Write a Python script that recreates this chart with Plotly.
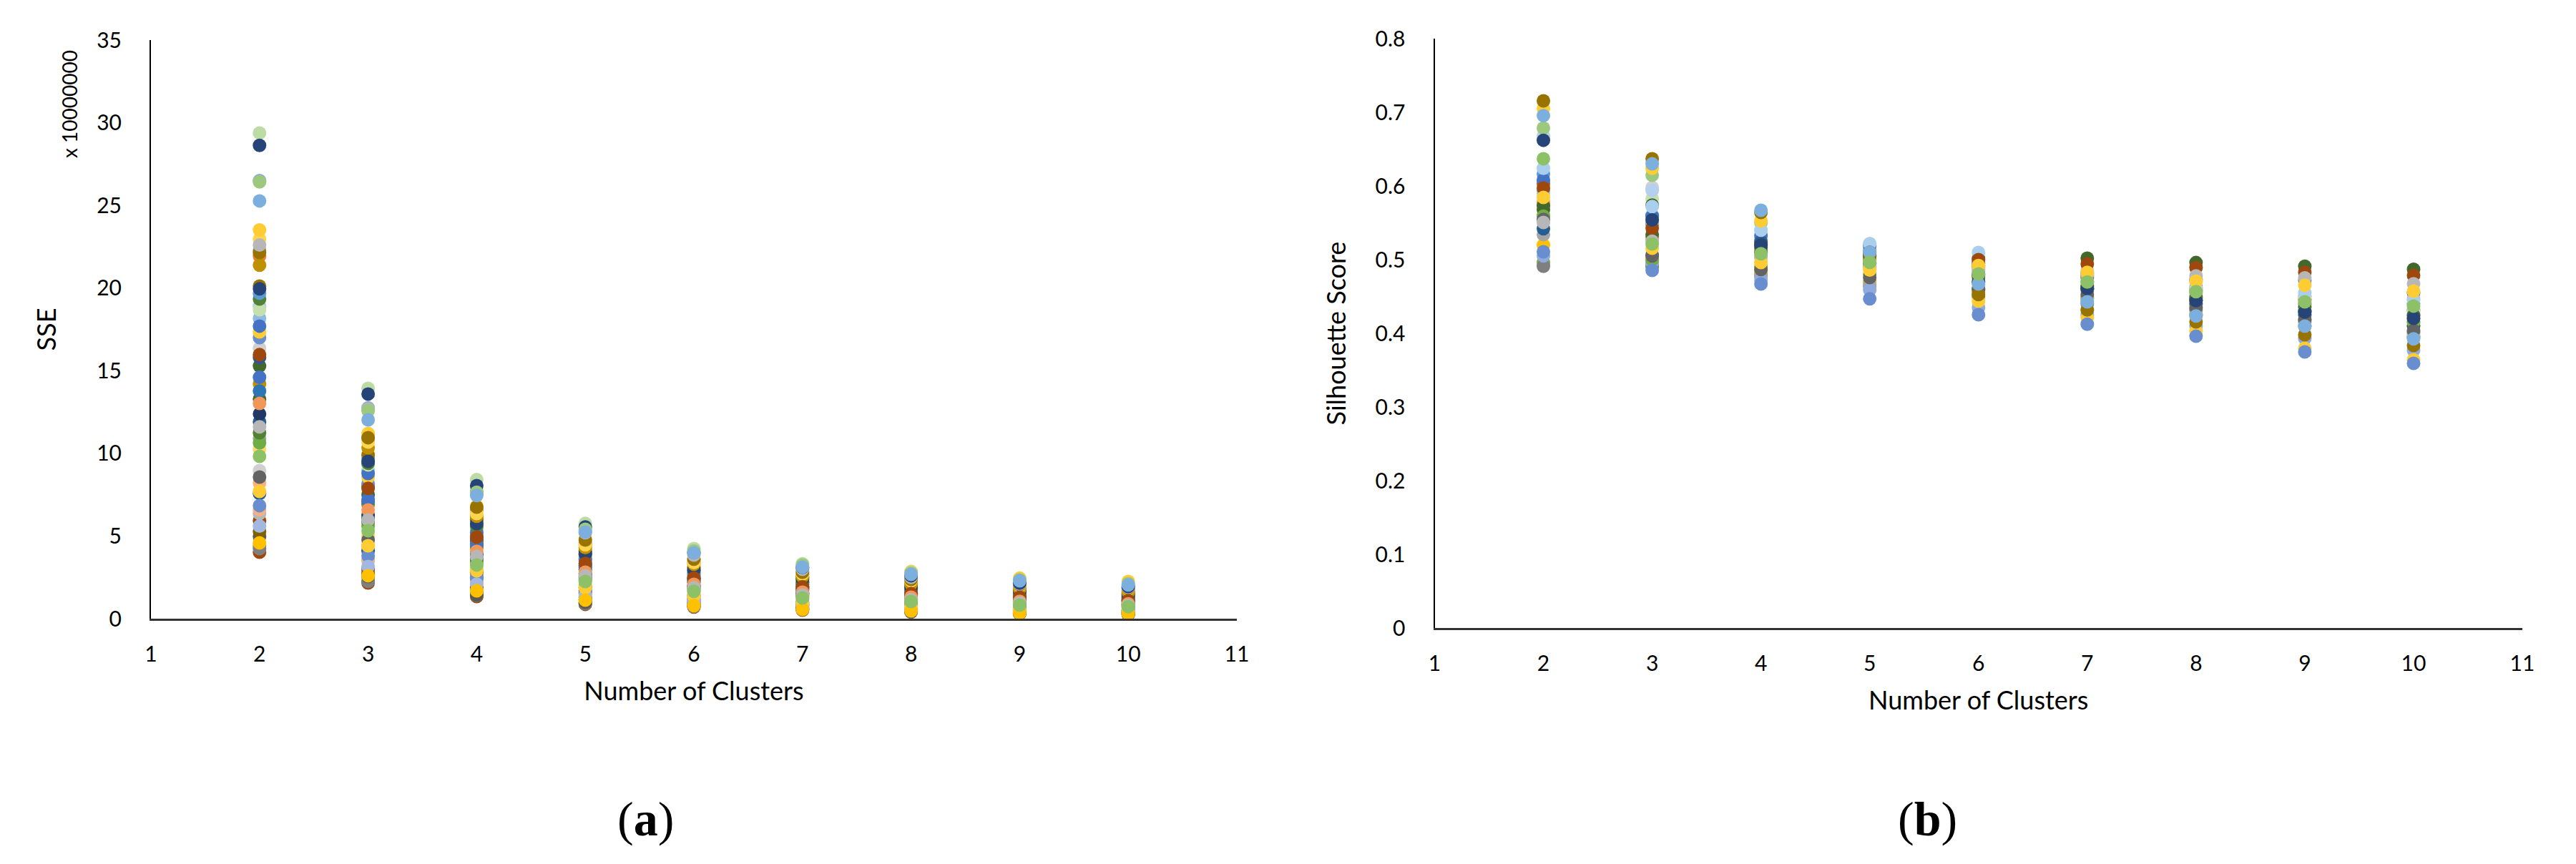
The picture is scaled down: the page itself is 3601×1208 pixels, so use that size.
import plotly.graph_objects as go

PAGE_W, PAGE_H = 3601, 1208
BODY = 8  # default page margin around the figure
W, H = PAGE_W - 2 * BODY, PAGE_H - 2 * BODY
clusters = [2, 3, 4, 5, 6, 7, 8, 9, 10]
xticks = [1, 2, 3, 4, 5, 6, 7, 8, 9, 10, 11]
sse_ticks = [0, 5, 10, 15, 20, 25, 30, 35]
sil_ticks = [0, 0.1, 0.2, 0.3, 0.4, 0.5, 0.6, 0.7, 0.8]

# SSE (x 10000000), one row per series, drawn in this order
sse_colors = ["#9E480E", "#70AD47", "#7F7F7F", "#595959", "#7F6000", "#9E480E", "#B7B7B7", "#F4B183",
              "#255E91", "#F4B183", "#D0D0D0", "#FFD966", "#A5A5A5", "#70AD47", "#548235", "#255E91",
              "#1F3864", "#43682B", "#BF9000", "#2E75B6", "#43682B", "#2F5597", "#D0D0D0", "#698ED0",
              "#4472C4", "#FFCD33", "#8FB9E3", "#A9CEEE", "#4472C4", "#C5DFAE", "#548235", "#5B9BD5",
              "#997300", "#264478", "#ED7D31", "#A5A5A5", "#BF9000", "#FFD54F", "#FFCD33", "#997300",
              "#8FAADC", "#B7B7B7", "#BCDBA5", "#264478", "#9DC97F", "#9E480E", "#F1975A", "#B7B7B7",
              "#636363", "#698ED0", "#A2B8E1", "#FFCD33", "#FFC000", "#8CC168", "#7CAFDD"]
sse_01 = [4.02, 2.16, 1.34, 0.87, 0.70, 0.52, 0.40, 0.30, 0.25]
sse_02 = [4.41, 2.29, 1.45, 0.95, 0.75, 0.58, 0.44, 0.33, 0.28]
sse_03 = [4.24, 2.25, 1.40, 0.92, 0.74, 0.56, 0.43, 0.33, 0.27]
sse_04 = [4.98, 2.55, 1.43, 0.98, 0.80, 0.60, 0.46, 0.36, 0.30]
sse_05 = [5.28, 2.75, 1.65, 1.15, 0.90, 0.70, 0.55, 0.42, 0.36]
sse_06 = [5.93, 3.00, 1.90, 1.30, 1.00, 0.80, 0.60, 0.50, 0.42]
sse_07 = [6.36, 3.50, 2.20, 1.50, 1.15, 0.90, 0.70, 0.55, 0.48]
sse_08 = [6.60, 3.60, 2.30, 1.55, 1.20, 0.95, 0.75, 0.60, 0.50]
sse_09 = [7.57, 4.10, 2.50, 1.70, 1.08, 0.85, 0.65, 0.50, 0.38]
sse_10 = [8.22, 4.40, 2.70, 1.85, 1.40, 1.10, 0.90, 0.70, 0.60]
sse_11 = [8.96, 4.90, 3.00, 2.00, 1.50, 1.20, 0.95, 0.75, 0.65]
sse_12 = [10.25, 5.06, 3.10, 2.10, 1.55, 1.20, 0.95, 0.75, 0.62]
sse_13 = [10.90, 5.80, 3.50, 2.40, 1.80, 1.40, 1.10, 0.90, 0.75]
sse_14 = [10.64, 5.60, 3.40, 2.30, 1.70, 1.35, 1.05, 0.85, 0.72]
sse_15 = [11.25, 5.90, 3.60, 2.50, 1.85, 1.45, 1.15, 0.95, 0.80]
sse_16 = [11.90, 6.10, 3.80, 2.60, 1.95, 1.50, 1.20, 1.00, 0.85]
sse_17 = [12.38, 6.27, 3.90, 2.70, 2.00, 1.55, 1.25, 1.05, 0.90]
sse_18 = [13.28, 6.92, 4.33, 2.95, 2.20, 1.70, 1.40, 1.15, 1.00]
sse_19 = [14.20, 7.00, 4.40, 3.00, 2.25, 1.75, 1.45, 1.20, 1.02]
sse_20 = [13.77, 7.10, 4.50, 3.10, 2.30, 1.80, 1.50, 1.25, 1.05]
sse_21 = [15.28, 7.50, 4.70, 3.20, 2.40, 1.90, 1.55, 1.30, 1.10]
sse_22 = [15.80, 8.00, 4.85, 3.30, 2.45, 1.92, 1.60, 1.35, 1.15]
sse_23 = [16.36, 8.20, 5.00, 3.45, 2.60, 2.00, 1.65, 1.40, 1.20]
sse_24 = [17.00, 8.14, 5.00, 3.50, 2.60, 2.05, 1.70, 1.40, 1.20]
sse_25 = [14.60, 7.23, 4.54, 3.20, 2.40, 1.85, 1.50, 1.30, 1.10]
sse_26 = [17.35, 8.57, 5.30, 3.70, 2.75, 2.20, 1.80, 1.50, 1.30]
sse_27 = [18.17, 8.90, 5.50, 3.80, 2.80, 2.20, 1.85, 1.55, 1.35]
sse_28 = [18.90, 9.00, 5.60, 3.85, 2.85, 2.25, 1.90, 1.60, 1.35]
sse_29 = [17.70, 8.78, 5.20, 3.60, 2.70, 2.10, 1.75, 1.45, 1.25]
sse_30 = [18.69, 9.30, 5.70, 3.90, 2.90, 2.30, 1.90, 1.60, 1.38]
sse_31 = [19.34, 9.40, 5.60, 3.90, 2.90, 2.20, 1.85, 1.50, 1.30]
sse_32 = [19.69, 9.69, 5.92, 4.03, 3.05, 2.50, 2.00, 1.70, 1.50]
sse_33 = [20.12, 9.90, 6.00, 4.10, 3.10, 2.45, 2.00, 1.70, 1.50]
sse_34 = [19.95, 9.52, 5.75, 3.93, 2.95, 2.38, 1.90, 1.66, 1.43]
sse_35 = [21.93, 10.90, 6.60, 4.50, 3.40, 2.65, 2.20, 1.90, 1.65]
sse_36 = [22.28, 11.00, 6.70, 4.60, 3.50, 2.70, 2.25, 1.95, 1.70]
sse_37 = [21.38, 10.34, 6.20, 4.30, 3.30, 2.55, 2.10, 1.80, 1.60]
sse_38 = [22.95, 10.69, 6.36, 4.47, 3.40, 2.70, 2.30, 2.00, 1.80]
sse_39 = [23.51, 11.20, 6.80, 4.85, 3.65, 2.90, 2.85, 2.45, 2.25]
sse_40 = [22.15, 10.95, 6.75, 4.76, 3.60, 2.81, 2.38, 2.05, 1.85]
sse_41 = [26.50, 12.75, 7.70, 5.30, 3.95, 3.05, 2.60, 2.20, 1.95]
sse_42 = [22.60, 12.68, 7.60, 5.20, 3.85, 3.00, 2.50, 2.10, 1.90]
sse_43 = [29.38, 13.93, 8.41, 5.76, 4.24, 3.32, 2.81, 2.30, 2.05]
sse_44 = [28.63, 13.59, 8.05, 5.55, 4.00, 3.10, 2.60, 2.15, 1.95]
sse_45 = [26.42, 12.59, 7.65, 5.41, 4.10, 3.25, 2.75, 2.35, 2.12]
sse_46 = [15.97, 7.88, 4.93, 3.34, 2.46, 1.93, 1.51, 1.30, 1.08]
sse_47 = [13.02, 6.58, 4.07, 2.81, 2.08, 1.60, 1.30, 1.05, 0.90]
sse_48 = [11.60, 5.97, 3.76, 2.60, 1.87, 1.43, 1.15, 0.95, 0.80]
sse_49 = [8.57, 4.76, 2.80, 1.90, 1.40, 1.00, 0.80, 0.65, 0.50]
sse_50 = [6.84, 3.81, 2.46, 1.59, 1.20, 0.95, 0.75, 0.60, 0.50]
sse_51 = [5.60, 3.16, 2.09, 1.40, 1.05, 0.80, 0.60, 0.50, 0.40]
sse_52 = [7.70, 4.41, 2.90, 1.87, 1.38, 0.95, 0.73, 0.56, 0.45]
sse_53 = [4.59, 2.60, 1.69, 1.12, 0.79, 0.56, 0.48, 0.35, 0.30]
sse_54 = [9.82, 5.32, 3.25, 2.25, 1.65, 1.25, 1.04, 0.82, 0.73]
sse_55 = [25.27, 12.03, 7.45, 5.24, 3.98, 3.12, 2.68, 2.29, 2.04]
sse_series = [sse_01, sse_02, sse_03, sse_04, sse_05, sse_06, sse_07, sse_08, sse_09, sse_10, sse_11,
              sse_12, sse_13, sse_14, sse_15, sse_16, sse_17, sse_18, sse_19, sse_20, sse_21, sse_22,
              sse_23, sse_24, sse_25, sse_26, sse_27, sse_28, sse_29, sse_30, sse_31, sse_32, sse_33,
              sse_34, sse_35, sse_36, sse_37, sse_38, sse_39, sse_40, sse_41, sse_42, sse_43, sse_44,
              sse_45, sse_46, sse_47, sse_48, sse_49, sse_50, sse_51, sse_52, sse_53, sse_54, sse_55]

# Silhouette score, one row per series, drawn in this order
sil_colors = ["#70AD47", "#7F7F7F", "#FFC000", "#A5A5A5", "#8FAADC", "#5B9BD5", "#C5DFAE", "#C55A11",
              "#ED7D31", "#D0D0D0", "#B4D0EE", "#8FB9E3", "#9DC97F", "#4472C4", "#F1975A", "#255E91",
              "#43682B", "#43682B", "#A9CEEE", "#9E480E", "#70AD47", "#636363", "#B7B7B7", "#264478",
              "#FFCD33", "#997300", "#7CAFDD", "#FFCD33", "#698ED0", "#8CC168"]
sil_01 = [0.496, 0.490, 0.482, 0.470, 0.458, 0.448, 0.432, 0.418, 0.402]
sil_02 = [0.491, 0.4925, 0.478, 0.464, 0.450, 0.440, 0.425, 0.410, 0.395]
sil_03 = [0.520, 0.500, 0.485, 0.470, 0.460, 0.450, 0.440, 0.430, 0.410]
sil_04 = [0.534, 0.496, 0.477, 0.466, 0.455, 0.447, 0.430, 0.415, 0.400]
sil_05 = [0.505, 0.497, 0.472, 0.459, 0.435, 0.425, 0.410, 0.393, 0.377]
sil_06 = [0.6165, 0.560, 0.527, 0.514, 0.490, 0.478, 0.462, 0.450, 0.440]
sil_07 = [0.588, 0.5825, 0.530, 0.510, 0.495, 0.475, 0.460, 0.445, 0.430]
sil_08 = [0.603, 0.548, 0.522, 0.507, 0.492, 0.476, 0.458, 0.446, 0.432]
sil_09 = [0.575, 0.530, 0.510, 0.495, 0.475, 0.460, 0.445, 0.430, 0.420]
sil_10 = [0.560, 0.598, 0.520, 0.5216, 0.500, 0.480, 0.460, 0.450, 0.430]
sil_11 = [0.668, 0.594, 0.540, 0.516, 0.500, 0.470, 0.450, 0.430, 0.415]
sil_12 = [0.593, 0.550, 0.525, 0.505, 0.485, 0.470, 0.455, 0.440, 0.425]
sil_13 = [0.6786, 0.6145, 0.550, 0.500, 0.460, 0.445, 0.425, 0.410, 0.395]
sil_14 = [0.608, 0.559, 0.533, 0.519, 0.495, 0.482, 0.473, 0.472, 0.455]
sil_15 = [0.578, 0.529, 0.505, 0.490, 0.480, 0.465, 0.450, 0.440, 0.4467]
sil_16 = [0.542, 0.506, 0.5237, 0.500, 0.480, 0.460, 0.440, 0.425, 0.410]
sil_17 = [0.568, 0.534, 0.510, 0.495, 0.478, 0.464, 0.448, 0.436, 0.424]
sil_18 = [0.573, 0.574, 0.516, 0.505, 0.502, 0.502, 0.496, 0.491, 0.487]
sil_19 = [0.624, 0.572, 0.540, 0.5216, 0.5097, 0.485, 0.470, 0.455, 0.445]
sil_20 = [0.597, 0.5427, 0.520, 0.510, 0.500, 0.4942, 0.489, 0.4827, 0.4787]
sil_21 = [0.559, 0.500, 0.490, 0.480, 0.470, 0.460, 0.445, 0.430, 0.415]
sil_22 = [0.5546, 0.505, 0.4866, 0.4757, 0.460, 0.4527, 0.4347, 0.4187, 0.404]
sil_23 = [0.5505, 0.525, 0.503, 0.490, 0.487, 0.480, 0.478, 0.4752, 0.4672]
sil_24 = [0.662, 0.554, 0.520, 0.505, 0.470, 0.461, 0.4445, 0.429, 0.4203]
sil_25 = [0.705, 0.624, 0.5527, 0.498, 0.4437, 0.421, 0.4027, 0.3797, 0.364]
sil_26 = [0.7155, 0.637, 0.564, 0.505, 0.4526, 0.4317, 0.4155, 0.398, 0.3835]
sil_27 = [0.6955, 0.630, 0.567, 0.510, 0.467, 0.4427, 0.4236, 0.4097, 0.3924]
sil_28 = [0.5845, 0.5155, 0.496, 0.486, 0.492, 0.4827, 0.4706, 0.4652, 0.4573]
sil_29 = [0.5107, 0.4854, 0.467, 0.4468, 0.4252, 0.4124, 0.396, 0.3748, 0.3592]
sil_30 = [0.637, 0.5214, 0.508, 0.4964, 0.4805, 0.4696, 0.4565, 0.4427, 0.437]
sil_series = [sil_01, sil_02, sil_03, sil_04, sil_05, sil_06, sil_07, sil_08, sil_09, sil_10,
              sil_11, sil_12, sil_13, sil_14, sil_15, sil_16, sil_17, sil_18, sil_19, sil_20,
              sil_21, sil_22, sil_23, sil_24, sil_25, sil_26, sil_27, sil_28, sil_29, sil_30]

FONT = "Lato, Carlito, Calibri, sans-serif"
TICK = 30
TITLE = 36
MARK = 19


def fx(px):
    return (px - BODY) / W


def fy(py):
    return 1 - (py - BODY) / H


fig = go.Figure()
for color, vals in zip(sse_colors, sse_series):
    fig.add_trace(go.Scatter(x=clusters, y=vals, mode="markers", xaxis="x", yaxis="y", showlegend=False,
                             marker=dict(color=color, size=MARK, line=dict(width=0))))
for color, vals in zip(sil_colors, sil_series):
    fig.add_trace(go.Scatter(x=clusters, y=vals, mode="markers", xaxis="x2", yaxis="y2", showlegend=False,
                             marker=dict(color=color, size=MARK, line=dict(width=0))))


def xax(left, right, standoff):
    return dict(domain=[fx(left), fx(right)], range=[1, 11], tickvals=xticks, ticktext=[str(v) for v in xticks],
                automargin=False, showgrid=False, zeroline=False, showline=True, linecolor="#333333", linewidth=3,
                ticks="outside", ticklen=21, tickcolor="rgba(0,0,0,0)", tickfont=dict(family=FONT, size=TICK, color="black"),
                title=dict(text="Number of Clusters", standoff=standoff, font=dict(family=FONT, size=TITLE, color="black")))


def yax(top, bottom, rng, vals, text, title, standoff):
    return dict(domain=[fy(bottom), fy(top)], range=rng, tickvals=vals, ticktext=text,
                automargin=False, showgrid=False, zeroline=False, showline=True, linecolor="black", linewidth=2,
                ticks="outside", ticklen=33, tickcolor="rgba(0,0,0,0)", tickfont=dict(family=FONT, size=TICK, color="black"),
                title=dict(text=title, standoff=standoff, font=dict(family=FONT, size=TITLE, color="black")))


fig.update_layout(
    width=W, height=H, margin=dict(l=0, r=0, t=0, b=0), paper_bgcolor="white", plot_bgcolor="white",
    xaxis=xax(211, 1729, 24),
    yaxis=yax(56, 865, [0, 35], sse_ticks, [str(v) for v in sse_ticks], "SSE", 46),
    xaxis2=dict(xax(2005.5, 3526, 24), anchor="y2"),
    yaxis2=dict(yax(54, 878, [0, 0.8], sil_ticks, ["0", "0.1", "0.2", "0.3", "0.4", "0.5", "0.6", "0.7", "0.8"],
                    "Silhouette Score", 30), anchor="x2"),
    annotations=[
        dict(text="x 10000000", xref="paper", yref="paper", x=fx(97), y=fy(146), textangle=-90, showarrow=False,
             xanchor="center", yanchor="middle", font=dict(family=FONT, size=28, color="black")),
        dict(text="(<b>a</b>)", xref="paper", yref="paper", x=fx(902), y=fy(1145), showarrow=False,
             xanchor="center", yanchor="middle", font=dict(family="Liberation Serif", size=68, color="black")),
        dict(text="(<b>b</b>)", xref="paper", yref="paper", x=fx(2694), y=fy(1145), showarrow=False,
             xanchor="center", yanchor="middle", font=dict(family="Liberation Serif", size=68, color="black")),
    ],
)
fig.write_html("out.html")
